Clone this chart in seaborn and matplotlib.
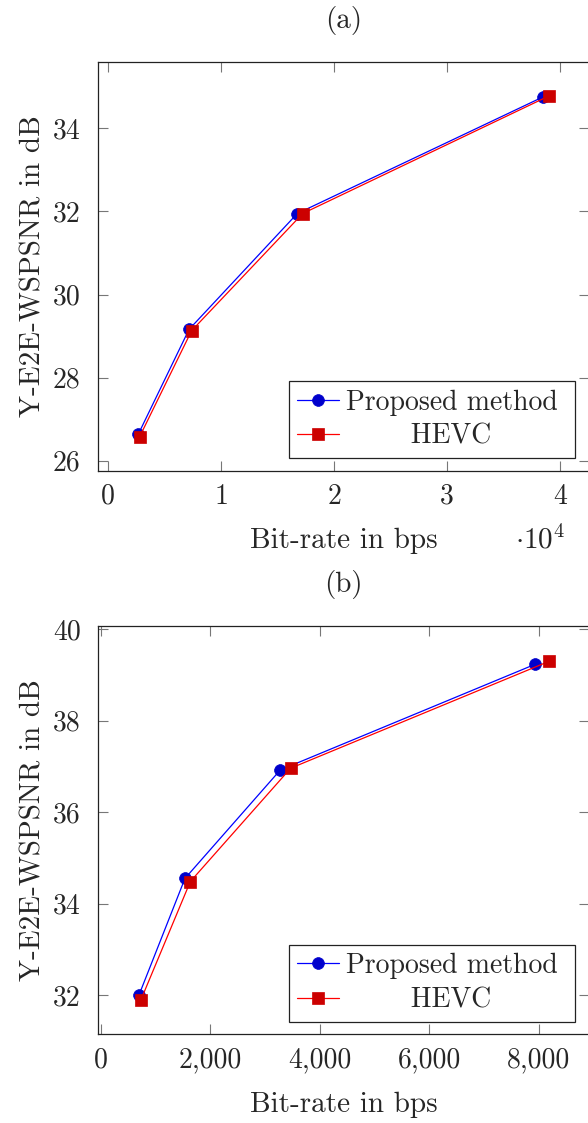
import numpy as np
import pandas as pd
import matplotlib
matplotlib.use("Agg")
import matplotlib.pyplot as plt
import seaborn as sns
from matplotlib.ticker import FuncFormatter

sns.set_style("ticks")
plt.rcParams["font.family"] = ["cmr10"]
plt.rcParams["mathtext.fontset"] = "cm"
plt.rcParams["axes.formatter.use_mathtext"] = True

FS = 20
LFS = 21

# ---- data (a) ----
a_prop_x = [2660, 7150, 16740, 38530]
a_prop_y = [26.64, 29.16, 31.95, 34.76]
a_hevc_x = [2780, 7380, 17220, 39030]
a_hevc_y = [26.58, 29.13, 31.95, 34.78]
a_xticks = [0, 10000, 20000, 30000, 40000]
a_yticks = [26, 28, 30, 32, 34]

# ---- data (b) ----
b_prop_x = [700, 1540, 3280, 7930]
b_prop_y = [32.00, 34.55, 36.92, 39.23]
b_hevc_x = [730, 1637, 3470, 8194]
b_hevc_y = [31.88, 34.48, 36.96, 39.30]
b_xticks = [0, 2000, 4000, 6000, 8000]
b_yticks = [32, 34, 36, 38, 40]

labels = ["Proposed method", "HEVC"]

W, H = 588, 1123
fig = plt.figure(figsize=(W / 100, H / 100), dpi=100)

def px_axes(l, t, r, b):
    return fig.add_axes([l / W, 1 - b / H, (r - l) / W, (b - t) / H])

ax1 = px_axes(98, 62.3, 589, 470.7)
ax2 = px_axes(98, 626, 589, 1034.3)

XLAB_Y = -0.19

def draw(ax, px, py, hx, hy, xlim, ylim, xticks, yticks, fmt, title):
    dfp = pd.DataFrame({"x": px, "y": py})
    dfh = pd.DataFrame({"x": hx, "y": hy})
    sns.lineplot(data=dfp, x="x", y="y", ax=ax, color="#0000ff", lw=0.9,
                 marker="o", markersize=8.5, markerfacecolor="#0000cc",
                 markeredgecolor="#0000cc", markeredgewidth=0.5,
                 label=labels[0])
    sns.lineplot(data=dfh, x="x", y="y", ax=ax, color="#ff0000", lw=0.9,
                 marker="s", markersize=8.5, markerfacecolor="#cc0000",
                 markeredgecolor="#cc0000", markeredgewidth=0.5,
                 label=labels[1])
    ax.set_xlim(*xlim)
    ax.set_ylim(*ylim)
    ax.set_xticks(xticks)
    ax.set_yticks(yticks)
    ax.xaxis.set_major_formatter(FuncFormatter(fmt))
    ax.yaxis.set_major_formatter(FuncFormatter(lambda v, p: f"{v:.0f}"))
    ax.tick_params(direction="in", length=7, width=0.8, color="#777777",
                   top=True, right=True, labelsize=FS)
    ax.tick_params(axis="y", pad=12.5)
    ax.tick_params(axis="x", pad=9)
    for s in ax.spines.values():
        s.set_color("#222222")
        s.set_linewidth(0.9)
    ax.set_xlabel("Bit-rate in bps", fontsize=LFS, va="baseline")
    ax.xaxis.set_label_coords(0.5, XLAB_Y)
    ax.set_ylabel("Y-E2E-WSPSNR in dB", fontsize=LFS, va="center")
    ax.yaxis.set_label_coords(-65 / 491, 0.5)
    ax.text(0.5, 1 + 42 / 408.4, title, transform=ax.transAxes,
            ha="center", va="center", fontsize=LFS)
    h, l = ax.get_legend_handles_labels()
    l = [labels[0] + " ", "       " + labels[1]]
    leg = ax.legend(h, l, loc="lower right", fontsize=FS,
                    bbox_to_anchor=(0.9715, 0.031), borderaxespad=0,
                    frameon=True, fancybox=False, edgecolor="#222222",
                    framealpha=1, borderpad=0.29, handlelength=1.51,
                    handletextpad=0.25, labelspacing=0.29)
    leg.get_frame().set_linewidth(0.9)

draw(ax1, a_prop_x, a_prop_y, a_hevc_x, a_hevc_y, (-912, 42580), (25.76, 35.59),
     a_xticks, a_yticks, lambda v, p: f"{v / 1e4:.0f}", "(a)")
ax1.text(0.951, XLAB_Y, r"$\cdot 10^4$", transform=ax1.transAxes,
         ha="right", va="baseline", fontsize=LFS)

draw(ax2, b_prop_x, b_prop_y, b_hevc_x, b_hevc_y, (-49, 8919), (31.14, 40.07),
     b_xticks, b_yticks, lambda v, p: f"{v:,.0f}", "(b)")

fig.savefig("out.png", dpi=100)
